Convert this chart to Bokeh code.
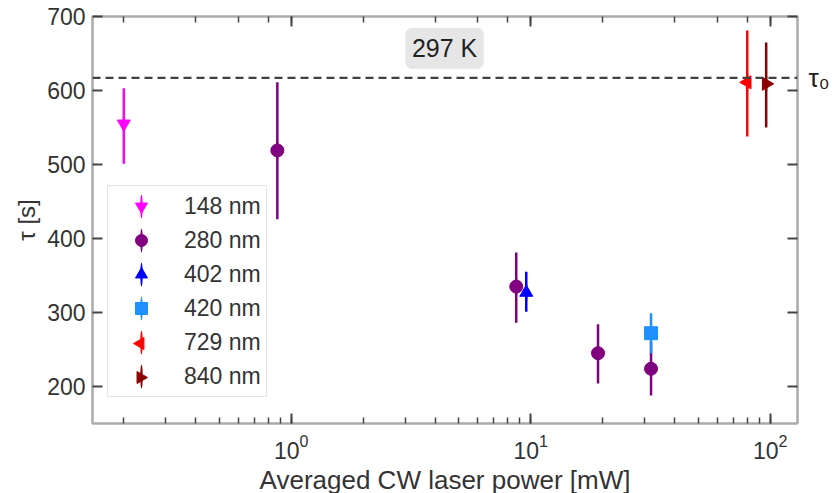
import numpy as np
from bokeh.plotting import figure
from bokeh.models import (Range1d, LogAxis, LinearAxis, FixedTicker, Span, Label,
                          Legend, LegendItem, ColumnDataSource, LinearScale)
from bokeh.embed import file_html
from bokeh.resources import INLINE

# ---- data ----
series_labels = ["148 nm", "280 nm", "402 nm", "420 nm", "729 nm", "840 nm"]
series_colors = ["#ff00ff", "#800080", "#0000ff", "#1e90ff", "#ff0000", "#8b0000"]
series_markers = ["inverted_triangle", "circle", "triangle", "square", "triangle", "triangle"]
series_angles = [0.0, 0.0, 0.0, 0.0, np.pi / 2, -np.pi / 2]

power_148 = [0.20]
tau_148 = [555]
lo_148 = [501]
hi_148 = [603]

power_280 = [0.875, 8.7, 19.1, 31.8]
tau_280 = [519, 335, 245, 224]
lo_280 = [426, 286, 204, 188]
hi_280 = [611, 381, 284, 260]

power_402 = [9.58]
tau_402 = [327]
lo_402 = [301]
hi_402 = [355]

power_420 = [31.8]
tau_420 = [272]
lo_420 = [245]
hi_420 = [299]

power_729 = [80.2]
tau_729 = [611]
lo_729 = [538]
hi_729 = [681]

power_840 = [96.2]
tau_840 = [609]
lo_840 = [550]
hi_840 = [665]

tau0 = 617
tau0_label = "τ₀"
y_ticks = [200, 300, 400, 500, 600, 700]
temperature_label = "297 K"

series_x = [power_148, power_280, power_402, power_420, power_729, power_840]
series_y = [tau_148, tau_280, tau_402, tau_420, tau_729, tau_840]
series_lo = [lo_148, lo_280, lo_402, lo_420, lo_729, lo_840]
series_hi = [hi_148, hi_280, hi_402, hi_420, hi_729, hi_840]

FONT = "Liberation Sans"
TXT = "#333333"
SPINE = "#aaaaaa"
TICK = "#444444"

FW, FH = 705, 407
p = figure(frame_width=FW, frame_height=FH, x_axis_type="log",
           x_range=Range1d(0.148, 130), y_range=Range1d(150, 700),
           min_border_left=92, min_border_right=38, min_border_top=16, min_border_bottom=70,
           output_backend="svg", toolbar_location=None,
           background_fill_color="white", border_fill_color="white")
p.xgrid.visible = False
p.ygrid.visible = False
p.outline_line_color = SPINE
p.outline_line_width = 2

# pixel coordinate system of the frame (used only for the legend's rotated markers)
p.extra_x_ranges = {"px": Range1d(0, FW)}
p.extra_x_scales = {"px": LinearScale()}
p.extra_y_ranges = {"px": Range1d(0, FH)}
p.extra_y_scales = {"px": LinearScale()}

p.xaxis.axis_label = "Averaged CW laser power [mW]"
p.yaxis.axis_label = "τ [s]"
p.yaxis.ticker = FixedTicker(ticks=y_ticks)


def style_axis(ax, labels=True):
    ax.axis_line_color = SPINE
    ax.axis_line_width = 2
    ax.major_tick_in = 10
    ax.major_tick_out = 0
    ax.minor_tick_in = 6
    ax.minor_tick_out = 0
    ax.major_tick_line_color = TICK
    ax.major_tick_line_width = 2
    ax.minor_tick_line_color = TICK
    ax.minor_tick_line_width = 1.5
    ax.major_label_text_font = FONT
    ax.major_label_text_color = TXT
    ax.axis_label_text_font = FONT
    ax.axis_label_text_color = TXT
    ax.axis_label_text_font_style = "normal"
    ax.major_label_standoff = 7
    if not labels:
        ax.major_label_text_font_size = "1px"
        ax.major_label_text_alpha = 0
        ax.major_label_standoff = 0


for ax in p.xaxis:
    style_axis(ax)
    ax.major_label_text_font_size = "23px"
    ax.major_label_standoff = 10
    ax.axis_label_text_font_size = "26px"
    ax.axis_label_standoff = 3
for ax in p.yaxis:
    style_axis(ax)
    ax.major_label_text_font_size = "23px"
    ax.axis_label_text_font_size = "24px"
    ax.axis_label_standoff = 4
    ax.minor_tick_line_color = None

top_axis = LogAxis()
style_axis(top_axis, labels=False)
p.add_layout(top_axis, "above")

right_axis = LinearAxis(ticker=FixedTicker(ticks=y_ticks))
style_axis(right_axis, labels=False)
right_axis.minor_tick_line_color = None
p.add_layout(right_axis, "right")

# tau0 label at the right edge, as a label-only axis
tau_axis = LinearAxis(ticker=FixedTicker(ticks=[tau0]),
                      major_label_overrides={tau0: tau0_label})
tau_axis.axis_line_color = None
tau_axis.major_tick_line_color = None
tau_axis.minor_tick_line_color = None
tau_axis.major_label_text_font = FONT
tau_axis.major_label_text_font_size = "26px"
tau_axis.major_label_text_color = "#222222"
tau_axis.major_label_standoff = 5
p.add_layout(tau_axis, "right")

# tau0 reference line
p.add_layout(Span(location=tau0, dimension="width", line_color="#404040",
                  line_width=2.2, line_dash="8 5"))

# legend layout constants
LEG_X, LEG_Y = 15, 26
LEG_PAD, LEG_SPACING = 5, 4
GLYPH_W, GLYPH_H = 56, 30
n_items = len(series_labels)
leg_h = 2 * LEG_PAD + n_items * GLYPH_H + (n_items - 1) * LEG_SPACING

items = []
for i, (lab, col, mk, ang, xs, ys, lo, hi) in enumerate(zip(
        series_labels, series_colors, series_markers, series_angles,
        series_x, series_y, series_lo, series_hi)):
    src = ColumnDataSource(dict(x=xs, y=ys, lo=lo, hi=hi))
    p.segment(x0="x", y0="lo", x1="x", y1="hi", source=src, line_color=col, line_width=2.5)
    # thin vertical stroke (hidden under the error bar) so the legend shows a bar
    bar = p.ellipse(x="x", y="y", width=2.5, height=24, width_units="screen",
                    height_units="screen", source=src, fill_color=col, line_color=None)
    mr = p.scatter(x="x", y="y", source=src, marker=mk, size=13, angle=ang,
                   fill_color=col, line_color=col)
    if ang == 0:
        items.append(LegendItem(label=lab, renderers=[bar, mr]))
    else:
        # legend swatches ignore marker angle: draw the rotated marker in the legend slot
        items.append(LegendItem(label=lab, renderers=[bar]))
        cx = LEG_X + LEG_PAD + GLYPH_W / 2
        cy = LEG_Y + leg_h - LEG_PAD - GLYPH_H * (i + 0.5) - LEG_SPACING * i
        p.scatter(x=[cx], y=[cy], x_range_name="px", y_range_name="px", marker=mk,
                  size=12, angle=ang, fill_color=col, line_color=col)

legend = Legend(items=items, location=(LEG_X, LEG_Y), padding=LEG_PAD, spacing=LEG_SPACING,
                glyph_width=GLYPH_W, glyph_height=GLYPH_H, label_standoff=15,
                label_text_font=FONT, label_text_font_size="23px", label_text_color=TXT,
                border_line_color="#cccccc", border_line_width=1,
                background_fill_color="white", background_fill_alpha=0, margin=0)
p.add_layout(legend)

p.add_layout(Label(x=4.37, y=657, text=temperature_label, text_align="center",
                   text_baseline="middle", text_font=FONT, text_font_size="25px",
                   text_color="#222222", background_fill_color="#e6e6e6",
                   border_line_color="#e6e6e6", padding=6, border_radius=6))

open("out.html", "w").write(file_html(p, INLINE))
